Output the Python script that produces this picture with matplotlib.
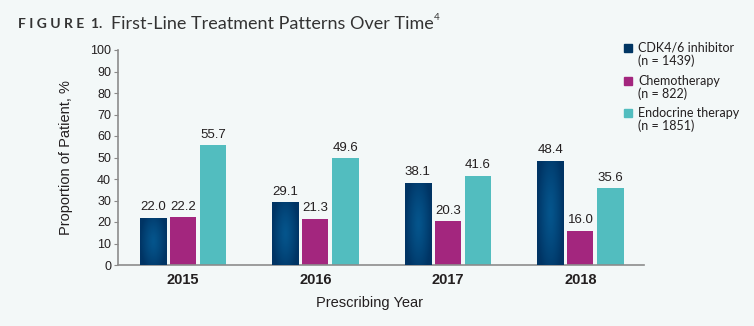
import numpy as np
import matplotlib.pyplot as plt
from matplotlib.patches import Rectangle

plt.rcParams['font.family'] = ['Liberation Sans', 'DejaVu Sans']

# Data
years = ['2015', '2016', '2017', '2018']
cdk = [22.0, 29.1, 38.1, 48.4]
chemo = [22.2, 21.3, 20.3, 16.0]
endo = [55.7, 49.6, 41.6, 35.6]
series_labels = ['CDK4/6 inhibitor\n(n = 1439)', 'Chemotherapy\n(n = 822)', 'Endocrine therapy\n(n = 1851)']
colors = ['#003563', '#A3267E', '#52BDBF']

bg = '#F3F8F8'
text_col = '#231F20'

fig = plt.figure(figsize=(7.54, 3.26), dpi=100, facecolor=bg)
ax = fig.add_axes([118 / 754, 1 - 265 / 326, (644 - 118) / 754, 215 / 326])
ax.set_facecolor(bg)

x = np.arange(len(years))
w = 0.197
step = 0.227
all_series = [cdk, chemo, endo]
for k, vals in enumerate(all_series):
    bars = ax.bar(x + (k - 1) * step, vals, width=w, color=colors[k], zorder=2)
    for b, v in zip(bars, vals):
        ax.text(b.get_x() + b.get_width() / 2, v + 2.2, f'{v:.1f}', ha='center', va='bottom',
                fontsize=9.5, color=text_col)
    if k == 0:
        # radial gradient for the CDK bars
        for b in bars:
            x0, h = b.get_x(), b.get_height()
            gx, gy = np.meshgrid(np.linspace(-1, 1, 60), np.linspace(-1, 1, 120))
            r = np.clip(np.sqrt(gx ** 2 + (gy * 0.75) ** 2), 0, 1) ** 1.3
            c0 = np.array([0x05, 0x55, 0x8C]) / 255
            c1 = np.array([0x00, 0x34, 0x64]) / 255
            img = c0[None, None, :] * (1 - r[..., None]) + c1[None, None, :] * r[..., None]
            im = ax.imshow(img, extent=[x0, x0 + b.get_width(), 0, h], aspect='auto', zorder=3)
            im.set_clip_path(b)

ax.set_xlim(-0.49, 3.48)
ax.set_ylim(0, 100)
ax.set_yticks(range(0, 101, 10))
ax.set_xticks(x)
ax.set_xticklabels(years, fontsize=10.5, fontweight='bold', color=text_col)
ax.tick_params(axis='y', labelsize=9, colors=text_col, length=3, color='#888888', pad=2)
ax.tick_params(axis='x', length=0, pad=6)
for s in ['top', 'right']:
    ax.spines[s].set_visible(False)
for s in ['left', 'bottom']:
    ax.spines[s].set_color('#8C8C8C')
    ax.spines[s].set_linewidth(1.2)

ax.set_ylabel('Proportion of Patient, %', fontsize=10.5, color=text_col, labelpad=12)
fig.text(370 / 754, 1 - 303 / 326, 'Prescribing Year', ha='center', va='center', fontsize=10.5, color=text_col)

# Title
fig.text(18 / 754, 1 - 24 / 326, 'F I G U R E  1.', fontsize=10, fontweight='bold', color='#333333',
         va='center', family='Lato')
fig.text(111 / 754, 1 - 24 / 326, 'First-Line Treatment Patterns Over Time', fontsize=13,
         color='#333333', va='center', family='Lato')
fig.text(434 / 754, 1 - 17 / 326, '4', fontsize=7, color='#333333', va='center', family='Lato')

# Legend
leg_y = [48, 81, 113]
for k in range(3):
    fig.patches.append(Rectangle((624 / 754, 1 - (leg_y[k] + 4) / 326), 8 / 754, 8 / 326,
                                 transform=fig.transFigure, color=colors[k]))
    fig.text(638 / 754, 1 - (leg_y[k] - 6) / 326, series_labels[k], fontsize=9, color=text_col,
             va='top', linespacing=1.0, family='Lato')

fig.savefig('out.png', dpi=100, facecolor=bg)
